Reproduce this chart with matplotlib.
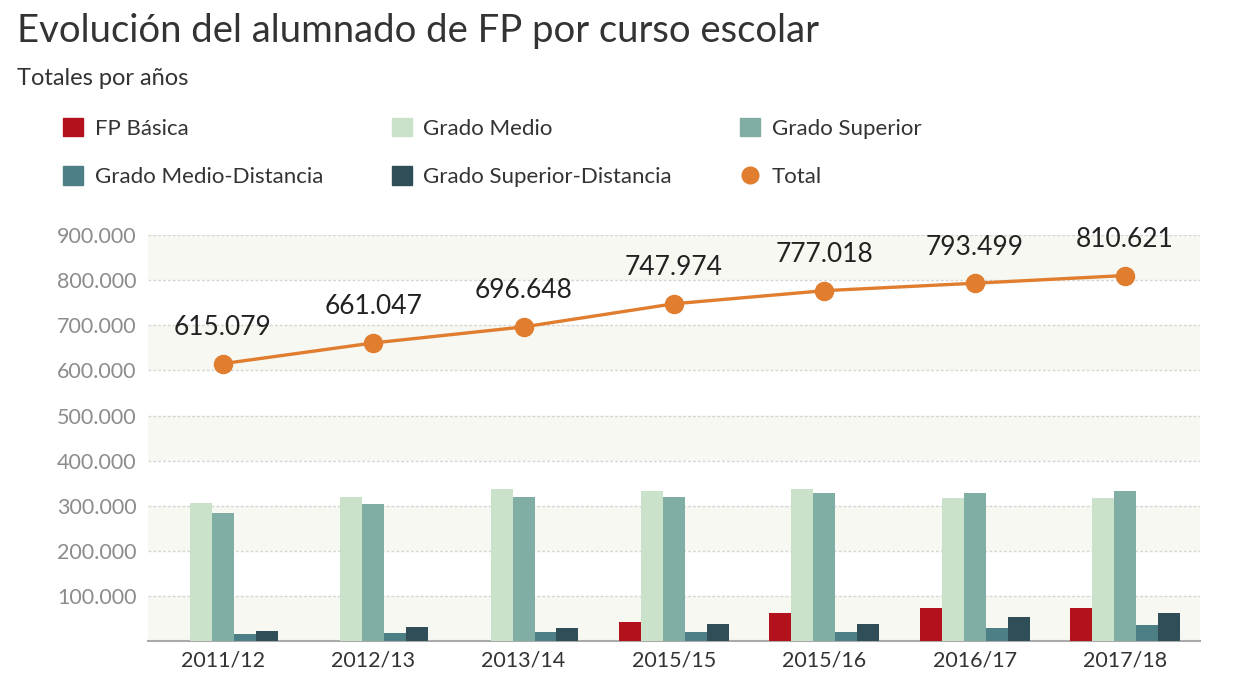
import matplotlib.pyplot as plt
from matplotlib.lines import Line2D
from matplotlib.patches import Patch
import numpy as np

plt.rcParams['font.family'] = ['Lato', 'DejaVu Sans']

cursos = ["2011/12", "2012/13", "2013/14", "2015/15", "2015/16", "2016/17", "2017/18"]
fp_basica = [0, 0, 0, 42000, 62000, 73000, 73000]
grado_medio = [305000, 319000, 337000, 333000, 337000, 317000, 317000]
grado_superior = [284000, 304000, 319000, 319000, 328000, 328000, 333000]
medio_distancia = [15000, 18000, 20000, 20000, 20000, 29000, 35000]
superior_distancia = [22000, 31000, 29000, 38000, 38000, 53000, 62000]
total = [615079, 661047, 696648, 747974, 777018, 793499, 810621]

series = [
    ("FP Básica", fp_basica, "#b3121c"),
    ("Grado Medio", grado_medio, "#c9e2c9"),
    ("Grado Superior", grado_superior, "#80aea4"),
    ("Grado Medio-Distancia", medio_distancia, "#4d7f86"),
    ("Grado Superior-Distancia", superior_distancia, "#2f4e57"),
]
orange = "#e07d2e"


def fmt(v):
    return "{:,}".format(int(v)).replace(",", ".")


fig = plt.figure(figsize=(12.4, 6.98), dpi=100)
ax = fig.add_axes([0.119, 0.0817, 0.849, 0.5813])

x = np.arange(len(cursos))
w = 0.146
for i, (name, vals, col) in enumerate(series):
    ax.bar(x + (i - 2) * w, vals, width=w, color=col, zorder=3)

ax.plot(x, total, color=orange, lw=2.4, marker='o', markersize=13, zorder=4)
for xi, v in zip(x, total):
    ax.annotate(fmt(v), (xi, v), xytext=(0, 17), textcoords='offset points',
                ha='center', va='bottom', fontsize=19, color='#222222')

# bandas alternas de fondo
for lo in range(0, 900000, 200000):
    ax.axhspan(lo, lo + 100000, color='#f7f8f1', zorder=0, lw=0)

ax.set_xlim(-0.5, 6.5)
ax.set_ylim(0, 900000)
yt = np.arange(100000, 900001, 100000)
ax.set_yticks(yt)
ax.set_yticklabels([fmt(v) for v in yt], fontsize=15.5, color='#8c8c8c')
ax.set_xticks(x)
ax.set_xticklabels(cursos, fontsize=15.5, color='#333333')
ax.yaxis.grid(True, linestyle=(0, (2, 1.5)), color='#d5d5d5', lw=1, zorder=1)
ax.tick_params(axis='both', length=0)
ax.tick_params(axis='y', pad=8)
ax.tick_params(axis='x', pad=7)
for s in ['top', 'right', 'left']:
    ax.spines[s].set_visible(False)
ax.spines['bottom'].set_color('#aaaaaa')
ax.spines['bottom'].set_linewidth(1.5)

fig.text(0.014, 0.955, "Evolución del alumnado de FP por curso escolar",
         fontsize=27.5, color='#333333', va='center')
fig.text(0.014, 0.888, "Totales por años", fontsize=17, color='#333333', va='center')

handles = [Patch(color=c, label=n) for n, _, c in series]
handles.append(Line2D([], [], color=orange, marker='o', lw=0, markersize=12, label="Total"))
order = [0, 3, 1, 4, 2, 5]
leg = fig.legend([handles[i] for i in order], [handles[i].get_label() for i in order],
                 loc='upper left', bbox_to_anchor=(0.035, 0.86), ncol=3, frameon=False,
                 fontsize=16, handlelength=0.9, handleheight=0.9, handletextpad=0.5,
                 columnspacing=3.1, labelspacing=1.25)
for t in leg.get_texts():
    t.set_color('#333333')

fig.savefig("out.png", dpi=100, facecolor='white')
